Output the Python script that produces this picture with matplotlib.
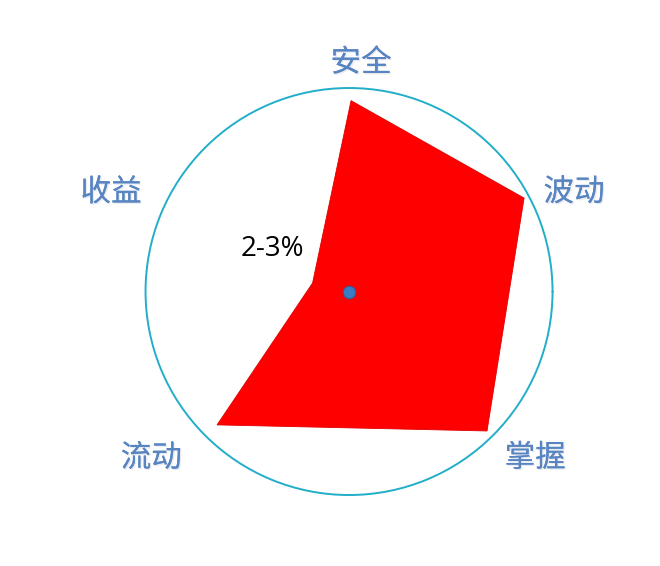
import numpy as np
import matplotlib
matplotlib.use('Agg')
import matplotlib.pyplot as plt
import matplotlib.patheffects as pe

plt.rcParams['font.family'] = ['Noto Sans CJK SC', 'DejaVu Sans']

# ── data ──
categories = ['安全', '波动', '掌握', '流动', '收益']
angles_deg = [89.4, 28.1, -45.3, -134.7, 166.9]   # direction of each vertex
values = [0.938, 0.975, 0.964, 0.922, 0.184]       # share of the outer circle
note_text = '2-3%'

# label placement (angle, radius) around the circle
label_angles = [87.0, 23.8, -41.8, -139.9, 157.4]
label_radii = [1.125, 1.208, 1.227, 1.271, 1.267]

fig = plt.figure(figsize=(6.6, 5.66), dpi=100)
ax = fig.add_axes([0.2205, 0.1254, 0.6167, 0.7191], projection='polar')

theta = np.deg2rad(angles_deg)
ax.fill(theta, values, color='#FF0000', edgecolor='#E00000', linewidth=0.6, zorder=2)

# centre dot
ax.plot([0], [0], 'o', markersize=9, markerfacecolor='#3B7BC4',
        markeredgecolor='#2D5F98', markeredgewidth=0.8, zorder=3)

ax.set_ylim(0, 1)
ax.set_xticks([])
ax.set_yticks([])
ax.grid(False)
for name in ['start', 'end', 'inner']:
    ax.spines[name].set_visible(False)
ax.spines['polar'].set_color('#22AEC9')
ax.spines['polar'].set_linewidth(1.4)
ax.spines['polar'].set_capstyle('round')

shadow = [pe.withSimplePatchShadow(offset=(1, -1), shadow_rgbFace='#C8CED8', alpha=0.4),
          pe.Normal()]
for cat, a, r in zip(categories, label_angles, label_radii):
    ax.text(np.deg2rad(a), r, cat, ha='center', va='center', fontsize=22,
            color='#5885C2', path_effects=shadow)

ax.text(np.deg2rad(150.8), 0.433, note_text, ha='center', va='center',
        fontsize=20, color='black', family=['Open Sans', 'DejaVu Sans'], zorder=4)

fig.savefig('out.png', dpi=100, facecolor='white')
